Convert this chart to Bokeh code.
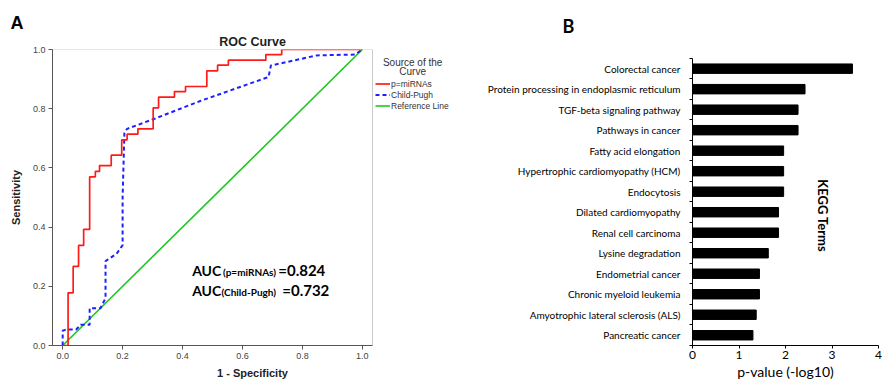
import math
from bokeh.plotting import figure
from bokeh.layouts import row
from bokeh.models import (Range1d, FixedTicker, Label, Legend, LegendItem, NumeralTickFormatter,
                          Title, BoxAnnotation)
from bokeh.embed import file_html
from bokeh.resources import INLINE

# ---------------- Panel A data: ROC curves ----------------
mirna_fpr = [0.0, 0.018, 0.035, 0.053, 0.070, 0.090, 0.109, 0.123, 0.162, 0.197, 0.215,
             0.251, 0.302, 0.320, 0.373, 0.410, 0.481, 0.517, 0.553, 0.678, 0.731, 1.0]
mirna_tpr = [0.0, 0.178, 0.267, 0.338, 0.392, 0.570, 0.588, 0.608, 0.643, 0.695, 0.714,
             0.732, 0.803, 0.839, 0.858, 0.875, 0.928, 0.947, 0.964, 0.983, 1.0, 1.0]
cp_fpr = [0.0, 0.0, 0.011, 0.045, 0.060, 0.090, 0.090, 0.126, 0.143, 0.143, 0.180, 0.200,
          0.200, 0.206, 0.215, 0.309, 0.459, 0.687, 0.695, 0.848, 0.976, 1.0]
cp_tpr = [0.0, 0.050, 0.054, 0.054, 0.070, 0.070, 0.126, 0.126, 0.160, 0.285, 0.310, 0.339,
          0.500, 0.720, 0.732, 0.767, 0.826, 0.907, 0.946, 0.980, 0.983, 1.0]
ref_fpr = [0.0, 1.0]
ref_tpr = [0.0, 1.0]
auc_mirna = 0.824
auc_cp = 0.732
roc_ticks = [0.0, 0.2, 0.4, 0.6, 0.8, 1.0]
roc_series = ["p=miRNAs", "Child-Pugh", "Reference Line"]

# ---------------- Panel B data: KEGG enrichment ----------------
kegg_terms = ["Colorectal cancer", "Protein processing in endoplasmic reticulum",
              "TGF-beta signaling pathway", "Pathways in cancer", "Fatty acid elongation",
              "Hypertrophic cardiomyopathy (HCM)", "Endocytosis", "Dilated cardiomyopathy",
              "Renal cell carcinoma", "Lysine degradation", "Endometrial cancer",
              "Chronic myeloid leukemia", "Amyotrophic lateral sclerosis (ALS)", "Pancreatic cancer"]
kegg_values = [3.44, 2.42, 2.27, 2.27, 1.96, 1.96, 1.96, 1.85, 1.85, 1.63, 1.44, 1.44, 1.37, 1.30]
kegg_ticks = [0, 1, 2, 3, 4]

AF = "Liberation Sans"
BF = "Lato"

# ================= Panel A =================
XA0, XA1 = -0.034, 1.034          # visible ROC box
A_FRAME_W = 400                    # frame also hosts the legend to the right of the box
xa_end = XA0 + A_FRAME_W * (XA1 - XA0) / 320.0
pA = figure(width=452, height=382, x_range=Range1d(XA0, xa_end), y_range=Range1d(0, 1),
            output_backend="svg", toolbar_location=None, title=None,
            min_border_left=52, min_border_right=0, min_border_top=47, min_border_bottom=36)
pA.xgrid.visible = False
pA.ygrid.visible = False
pA.outline_line_color = None
pA.add_layout(BoxAnnotation(left=XA0, right=XA1, bottom=0, top=1, fill_alpha=0,
                            line_color="#555555", line_width=1))

for ax in (pA.xaxis, pA.yaxis):
    ax.ticker = FixedTicker(ticks=roc_ticks)
    ax.formatter = NumeralTickFormatter(format="0.0")
    ax.minor_tick_line_color = None
    ax.major_tick_out = 4
    ax.major_tick_in = 0
    ax.major_tick_line_color = "#555555"
    ax.axis_line_color = "#555555"
    ax.major_label_text_font = AF
    ax.major_label_text_font_size = "9px"
    ax.major_label_text_color = "#444444"
    ax.major_label_standoff = 3
    ax.axis_label_text_font = AF
    ax.axis_label_text_font_size = "11px"
    ax.axis_label_text_font_style = "bold"
    ax.axis_label_text_color = "#222222"
pA.xaxis.bounds = (XA0, XA1)
pA.yaxis.axis_label = "Sensitivity"
pA.yaxis.axis_label_standoff = 8
pA.xaxis.axis_label = "1 - Specificity"
pA.xaxis.axis_label_standoff = 5

r_ref = pA.line(ref_fpr, ref_tpr, color="#1ec81e", line_width=1.6)
r_cp = pA.line(cp_fpr, cp_tpr, color="#1f1fff", line_width=2, line_dash="4 3")
r_mi = pA.step(mirna_fpr, mirna_tpr, mode="after", color="#ff1a1a", line_width=1.7)

legend = Legend(items=[LegendItem(label=roc_series[0], renderers=[r_mi]),
                       LegendItem(label=roc_series[1], renderers=[r_cp]),
                       LegendItem(label=roc_series[2], renderers=[r_ref])],
                location=(323, 234), border_line_color=None, background_fill_alpha=0,
                label_text_font=AF, label_text_font_size="8.5px", label_text_color="#333333",
                glyph_width=15, glyph_height=11, label_height=11, label_standoff=1,
                spacing=0, padding=0, margin=0)
pA.add_layout(legend)

pA.add_layout(Title(text="ROC Curve", align="center", offset=-2, standoff=1,
                    text_font=AF, text_font_size="12.5px", text_font_style="bold",
                    text_color="#222222"), "above")
pA.add_layout(Title(text="A", align="left", offset=-42, standoff=0,
                    text_font=AF, text_font_size="18px", text_font_style="bold",
                    text_color="black"), "above")

def lab(p, x, y, text, font, size, style="normal", align="left", baseline="middle",
        color="black", angle=0.0):
    p.add_layout(Label(x=x, y=y, text=text, text_font=font, text_font_size=size,
                       text_font_style=style, text_align=align, text_baseline=baseline,
                       text_color=color, angle=angle))

lab(pA, 1.168, 0.9575, "Source of the", AF, "10px", align="center", color="#333333")
lab(pA, 1.168, 0.924, "Curve", AF, "10px", align="center", color="#333333")

lab(pA, 0.432, 0.2544, "AUC", BF, "14px", "bold", baseline="alphabetic")
lab(pA, 0.535, 0.249, "(p=miRNAs)", BF, "10px", "bold", baseline="alphabetic")
lab(pA, 0.7194, 0.2544, "=%.3f" % auc_mirna, BF, "15px", "bold", baseline="alphabetic")
lab(pA, 0.432, 0.1875, "AUC", BF, "14px", "bold", baseline="alphabetic")
lab(pA, 0.530, 0.180, "(Child-Pugh)", BF, "10px", "bold", baseline="alphabetic")
lab(pA, 0.7328, 0.1875, "=%.3f" % auc_cp, BF, "15px", "bold", baseline="alphabetic")

# ================= Panel B =================
n = len(kegg_terms)
ypos = [n - 0.5 - i for i in range(n)]
pB = figure(width=430, height=382, x_range=Range1d(0, 4), y_range=Range1d(0, n * 299 / 290),
            output_backend="svg", toolbar_location=None, title=None,
            min_border_left=240, min_border_right=4, min_border_top=47, min_border_bottom=36)
pB.xgrid.visible = False
pB.ygrid.visible = False
pB.outline_line_color = None
pB.hbar(y=ypos, left=0, right=kegg_values, height=0.46, color="black")

pB.yaxis.bounds = (0, n)
pB.yaxis.ticker = FixedTicker(ticks=ypos, minor_ticks=list(range(n + 1)))
pB.yaxis.major_label_overrides = {y: t for y, t in zip(ypos, kegg_terms)}
pB.yaxis.major_tick_out = 0
pB.yaxis.major_tick_in = 0
pB.yaxis.minor_tick_out = 3
pB.yaxis.minor_tick_in = 0
pB.yaxis.minor_tick_line_color = "black"
pB.yaxis.major_label_standoff = 9
pB.yaxis.major_label_text_font = BF
pB.yaxis.major_label_text_font_size = "10px"
pB.yaxis.major_label_text_color = "black"
pB.yaxis.axis_line_color = "black"

pB.xaxis.ticker = FixedTicker(ticks=kegg_ticks)
pB.xaxis.minor_tick_line_color = None
pB.xaxis.major_tick_out = 3
pB.xaxis.major_tick_in = 0
pB.xaxis.major_tick_line_color = "black"
pB.xaxis.axis_line_color = "black"
pB.xaxis.major_label_text_font = BF
pB.xaxis.major_label_text_font_size = "12px"
pB.xaxis.major_label_text_color = "black"
pB.xaxis.major_label_standoff = 2
pB.xaxis.axis_label = "p-value (-log10)"
pB.xaxis.axis_label_text_font = BF
pB.xaxis.axis_label_text_font_size = "14px"
pB.xaxis.axis_label_text_font_style = "normal"
pB.xaxis.axis_label_text_color = "black"
pB.xaxis.axis_label_standoff = 1

pB.add_layout(Title(text="B", align="left", offset=-130, standoff=25,
                    text_font=BF, text_font_size="18px", text_font_style="bold",
                    text_color="black"), "above")

lab(pB, 2.806, 6.33, "KEGG Terms", BF, "13px", "bold", "center", angle=-math.pi / 2)

layout = row(pA, pB)
open("out.html", "w").write(file_html(layout, INLINE))
